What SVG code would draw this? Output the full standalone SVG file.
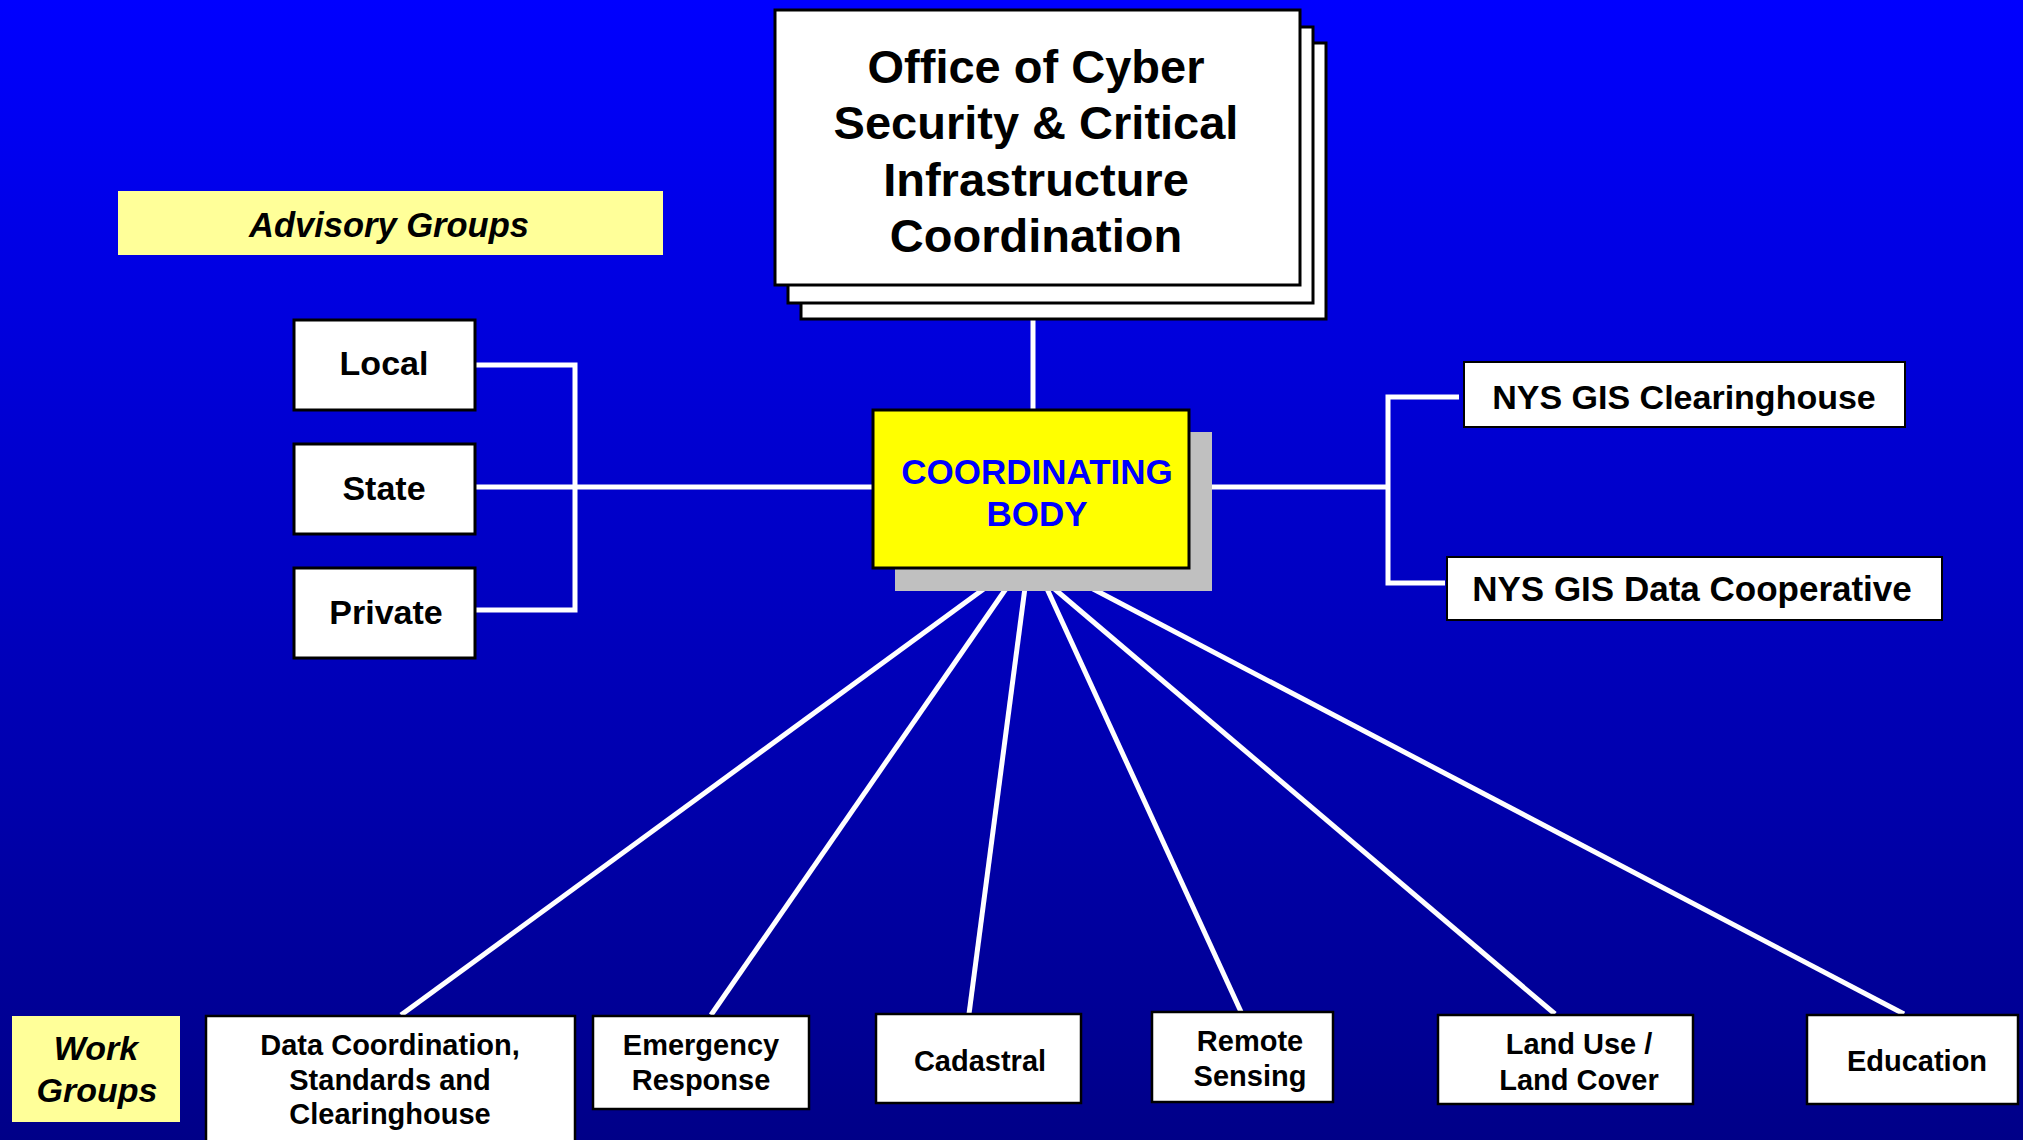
<svg xmlns="http://www.w3.org/2000/svg" width="2023" height="1140" viewBox="0 0 2023 1140">
  <defs>
    <linearGradient id="bg" x1="0" y1="0" x2="0" y2="1">
      <stop offset="0" stop-color="#0000ff"/>
      <stop offset="1" stop-color="#000088"/>
    </linearGradient>
    <style>
      .box { fill: #ffffff; stroke: #000000; stroke-width: 3; }
      .wbox { fill: #ffffff; stroke: #000000; stroke-width: 2.5; }
      .label { fill: #ffff99; stroke: none; }
      .link { fill: none; stroke: #ffffff; stroke-width: 5; stroke-linecap: butt; stroke-linejoin: miter; }
      text { font-family: "Liberation Sans", Arial, sans-serif; font-weight: bold; fill: #000000; text-anchor: middle; }
      .big { font-size: 47px; }
      .mid { font-size: 34px; }
      .small { font-size: 29px; }
      .ital { font-style: italic; }
    </style>
  </defs>

  <rect x="0" y="0" width="2023" height="1140" fill="url(#bg)"/>

  <!-- connectors -->
  <g id="connectors">
    <!-- office to coordinating body -->
    <line class="link" x1="1033" y1="318" x2="1033" y2="412"/>
    <!-- advisory bracket -->
    <polyline class="link" points="475,365 575,365 575,610 475,610"/>
    <line class="link" x1="475" y1="487" x2="875" y2="487"/>
    <!-- right bracket -->
    <line class="link" x1="1190" y1="487" x2="1390" y2="487"/>
    <polyline class="link" points="1459,397 1388,397 1388,583 1445,583"/>
    <!-- work group spokes -->
    <line class="link" x1="996" y1="580" x2="401" y2="1015"/>
    <line class="link" x1="1012" y1="580" x2="711" y2="1015"/>
    <line class="link" x1="1026" y1="580" x2="969" y2="1014"/>
    <line class="link" x1="1043" y1="580" x2="1242" y2="1014"/>
    <line class="link" x1="1044" y1="580" x2="1555" y2="1014"/>
    <line class="link" x1="1076" y1="580" x2="1904" y2="1014"/>
  </g>

  <g id="office">
    <rect class="box" x="801" y="43" width="525" height="276"/>
    <rect class="box" x="788" y="27" width="525" height="276"/>
    <rect class="box" x="775" y="10" width="525" height="275"/>
    <text class="big" x="1036" y="82.5">Office of Cyber</text>
    <text class="big" x="1036" y="139">Security &amp; Critical</text>
    <text class="big" x="1036" y="195.5">Infrastructure</text>
    <text class="big" x="1036" y="252">Coordination</text>
  </g>

  <g id="advisory-label">
    <rect class="label" x="118" y="191" width="545" height="64"/>
    <text class="ital" x="389" y="236.5" font-size="34.5">Advisory Groups</text>
  </g>

  <g id="local">
    <rect class="box" x="294" y="320" width="181" height="90"/>
    <text class="mid" x="384" y="375">Local</text>
  </g>
  <g id="state">
    <rect class="box" x="294" y="444" width="181" height="90"/>
    <text class="mid" x="384" y="500">State</text>
  </g>
  <g id="private">
    <rect class="box" x="294" y="568" width="181" height="90"/>
    <text class="mid" x="386" y="624">Private</text>
  </g>

  <g id="coordinating-body">
    <rect x="895" y="432" width="317" height="159" fill="#c0c0c0"/>
    <rect x="873" y="410" width="316" height="158" fill="#ffff00" stroke="#000000" stroke-width="3"/>
    <text x="1037" y="483.5" font-size="35" style="fill:#0000ff">COORDINATING</text>
    <text x="1037" y="525.5" font-size="35" style="fill:#0000ff">BODY</text>
  </g>

  <g id="clearinghouse">
    <rect class="box" x="1464" y="362" width="441" height="65" style="stroke-width:2"/>
    <text class="mid" x="1684" y="408.5">NYS GIS Clearinghouse</text>
  </g>
  <g id="data-cooperative">
    <rect class="box" x="1447" y="557" width="495" height="63" style="stroke-width:2"/>
    <text x="1692" y="600.5" font-size="35">NYS GIS Data Cooperative</text>
  </g>

  <g id="work-groups-label">
    <rect class="label" x="12" y="1016" width="168" height="106"/>
    <text class="ital" x="96" y="1060" font-size="34">Work</text>
    <text class="ital" x="97" y="1101.5" font-size="34">Groups</text>
  </g>

  <g id="data-coordination">
    <rect class="wbox" x="206" y="1016" width="369" height="140"/>
    <text class="small" x="390" y="1055">Data Coordination,</text>
    <text class="small" x="390" y="1089.5">Standards and</text>
    <text class="small" x="390" y="1124">Clearinghouse</text>
  </g>
  <g id="emergency-response">
    <rect class="wbox" x="593" y="1016" width="216" height="93"/>
    <text class="small" x="701" y="1055">Emergency</text>
    <text class="small" x="701" y="1090">Response</text>
  </g>
  <g id="cadastral">
    <rect class="wbox" x="876" y="1014" width="205" height="89"/>
    <text class="small" x="980" y="1070.5">Cadastral</text>
  </g>
  <g id="remote-sensing">
    <rect class="wbox" x="1152" y="1012" width="181" height="90"/>
    <text class="small" x="1250" y="1050.5">Remote</text>
    <text class="small" x="1250" y="1086">Sensing</text>
  </g>
  <g id="land-use">
    <rect class="wbox" x="1438" y="1015" width="255" height="89"/>
    <text class="small" x="1579" y="1054">Land Use /</text>
    <text class="small" x="1579" y="1090">Land Cover</text>
  </g>
  <g id="education">
    <rect class="wbox" x="1807" y="1015" width="211" height="89"/>
    <text class="small" x="1917" y="1070.5">Education</text>
  </g>
</svg>
